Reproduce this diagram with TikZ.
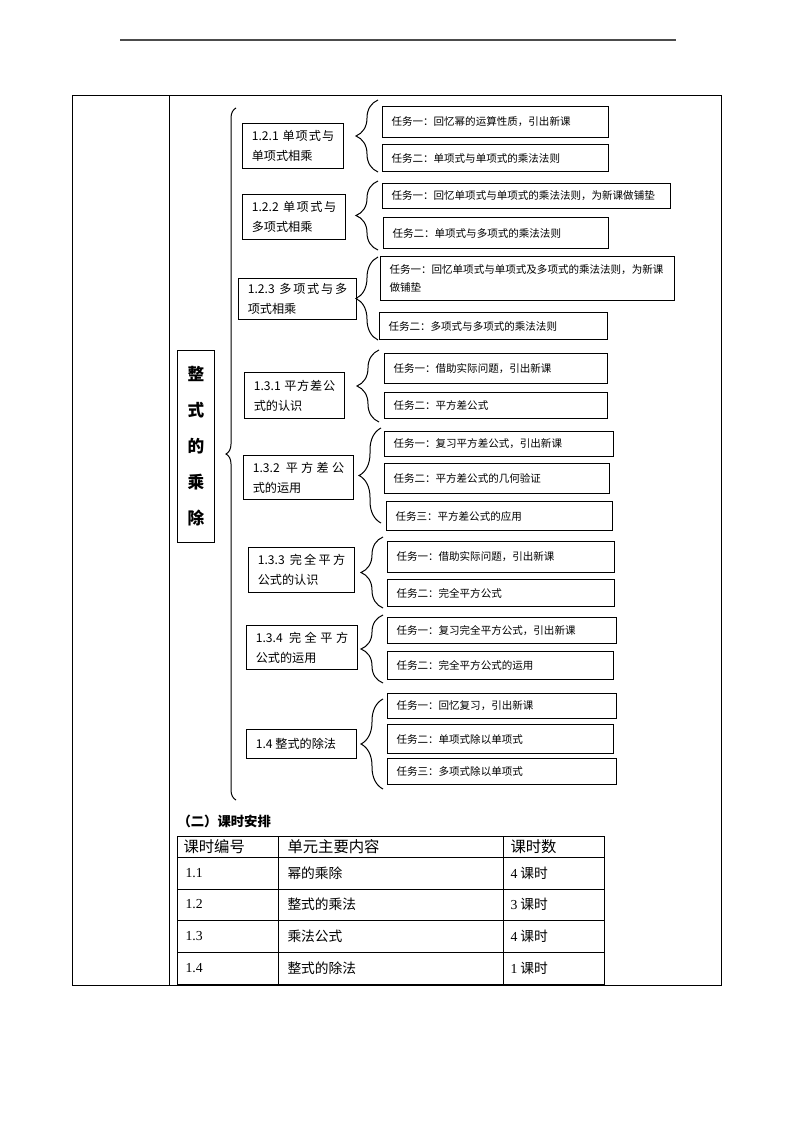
\documentclass[tikz,border=0pt]{standalone}
\usepackage{fontspec}
\setmainfont{Noto Sans CJK SC}
\newfontfamily\latin{Liberation Serif}
\usetikzlibrary{positioning, decorations.pathreplacing}
\XeTeXlinebreaklocale "zh"
\XeTeXlinebreakskip=0pt plus 1pt
\tikzstyle{topic} = [draw, line width=0.75pt, anchor=north west, inner xsep=7pt, inner ysep=0pt, align=justify, font=\fontsize{9.1pt}{15pt}\selectfont]
\tikzstyle{task} = [draw, line width=0.75pt, anchor=north west, inner xsep=6.75pt, inner ysep=0pt, align=left, font=\fontsize{7.9pt}{14pt}\selectfont]
\tikzstyle{curly} = [decorate, decoration={brace, amplitude=16.5pt}, line width=0.75pt]
\tikzstyle{bigcurly} = [decorate, decoration={brace, amplitude=7.5pt}, line width=0.75pt]
\tikzstyle{cell} = [anchor=west, inner sep=0pt, font=\fontsize{10.3pt}{12pt}\selectfont]
\tikzstyle{headcell} = [anchor=west, inner sep=0pt, font=\fontsize{11.5pt}{13pt}\selectfont]

\begin{document}
\begin{tikzpicture}[x=0.75pt, y=-0.75pt, line width=0.75pt]
            \useasboundingbox (0,0) rectangle (794,1123);
            % page rule and frame
            \draw[line width=1pt, black!70] (120,40) -- (676,40);
            \draw (72,96) rectangle (721,985);
            \draw (169,96) -- (169,985);

            \node (unit) [draw, anchor=north west, minimum width=27.75pt, minimum height=144pt, inner sep=0pt, align=center, font=\fontsize{12.5pt}{27pt}\selectfont\bfseries] at (177,350) {整\\式\\的\\乘\\除};

            % sections
            \node (m121) [topic, text width=61.75pt, minimum height=33.75pt] at (242,123) {1.2.1 单项式与\linebreak 单项式相乘};
            \node (m122) [topic, text width=63.25pt, minimum height=33.75pt] at (242,194) {1.2.2 单项式与\linebreak 多项式相乘};
            \node (m123) [topic, text width=74.5pt, minimum height=30.75pt] at (238,278) {1.2.3 多项式与多\linebreak 项式相乘};
            \node (m131) [topic, text width=61pt, minimum height=34.5pt] at (244,372) {1.3.1 平方差公\linebreak 式的认识};
            \node (m132) [topic, text width=68.5pt, minimum height=33pt] at (243,455) {1.3.2 平方差公\linebreak 式的运用};
            \node (m133) [topic, text width=65.5pt, minimum height=33.75pt] at (248,547) {1.3.3 完全平方\linebreak 公式的认识};
            \node (m134) [topic, text width=69.25pt, minimum height=33pt] at (246,625) {1.3.4 完全平方\linebreak 公式的运用};
            \node (m14) [topic, text width=68.5pt, minimum height=21.75pt] at (246,729) {1.4 整式的除法};

            % tasks
            \node (t121a) [task, text width=156pt, minimum height=23.25pt] at (382,106) {任务一：回忆幂的运算性质，引出新课};
            \node (t121b) [task, text width=156pt, minimum height=20.25pt] at (382,144) {任务二：单项式与单项式的乘法法则};
            \node (t122a) [task, text width=202.5pt, minimum height=18.75pt] at (382,183) {任务一：回忆单项式与单项式的乘法法则，为新课做铺垫};
            \node (t122b) [task, text width=155.25pt, minimum height=23.25pt] at (383,217) {任务二：单项式与多项式的乘法法则};
            \node (t123a) [task, text width=207pt, minimum height=33pt] at (380,256) {任务一：回忆单项式与单项式及多项式的乘法法则，为新课\\做铺垫};
            \node (t123b) [task, text width=157.5pt, minimum height=20.25pt] at (379,312) {任务二：多项式与多项式的乘法法则};
            \node (t131a) [task, text width=153.75pt, minimum height=22.5pt] at (384,353) {任务一：借助实际问题，引出新课};
            \node (t131b) [task, text width=153.75pt, minimum height=19.5pt] at (384,392) {任务二：平方差公式};
            \node (t132a) [task, text width=158.25pt, minimum height=18.75pt] at (384,431) {任务一：复习平方差公式，引出新课};
            \node (t132b) [task, text width=155.25pt, minimum height=22.5pt] at (384,463) {任务二：平方差公式的几何验证};
            \node (t132c) [task, text width=156pt, minimum height=21.75pt] at (386,501) {任务三：平方差公式的应用};
            \node (t133a) [task, text width=156.75pt, minimum height=23.25pt] at (387,541) {任务一：借助实际问题，引出新课};
            \node (t133b) [task, text width=156.75pt, minimum height=20.25pt] at (387,579) {任务二：完全平方公式};
            \node (t134a) [task, text width=158.25pt, minimum height=19.5pt] at (387,617) {任务一：复习完全平方公式，引出新课};
            \node (t134b) [task, text width=156pt, minimum height=21pt] at (387,651) {任务二：完全平方公式的运用};
            \node (t14a) [task, text width=158.25pt, minimum height=18.75pt] at (387,693) {任务一：回忆复习，引出新课};
            \node (t14b) [task, text width=156pt, minimum height=21.75pt] at (387,724) {任务二：单项式除以单项式};
            \node (t14c) [task, text width=158.25pt, minimum height=19.5pt] at (387,758) {任务三：多项式除以单项式};

            % brace ends
            \coordinate (bign) at (236,108);
            \coordinate (bigs) at (236,800);
            \coordinate (b121n) at (378,100);
            \coordinate (b121s) at (378,172);
            \coordinate (b122n) at (378,181);
            \coordinate (b122s) at (378,250);
            \coordinate (b123n) at (378,257);
            \coordinate (b123s) at (378,340);
            \coordinate (b131n) at (379,350);
            \coordinate (b131s) at (379,422);
            \coordinate (b132n) at (381,428);
            \coordinate (b132s) at (381,523);
            \coordinate (b133n) at (383,537);
            \coordinate (b133s) at (383,608);
            \coordinate (b134n) at (383,615);
            \coordinate (b134s) at (383,683);
            \coordinate (b14n) at (383,699);
            \coordinate (b14s) at (383,789);

            \draw[bigcurly] (bigs) -- (bign);
            \draw[curly] (b121s) -- (b121n);
            \draw[curly] (b122s) -- (b122n);
            \draw[curly] (b123s) -- (b123n);
            \draw[curly] (b131s) -- (b131n);
            \draw[curly] (b132s) -- (b132n);
            \draw[curly] (b133s) -- (b133n);
            \draw[curly] (b134s) -- (b134n);
            \draw[curly] (b14s) -- (b14n);

            % timetable
            \node (plan) [anchor=west, inner sep=0pt, font=\fontsize{10pt}{12pt}\selectfont\bfseries] at (177,821) {（二）课时安排};
            \draw (177,836) rectangle (604,984);
            \draw (177,857) -- (604,857);
            \draw (177,889) -- (604,889);
            \draw (177,920) -- (604,920);
            \draw (177,952) -- (604,952);
            \draw (278,836) -- (278,984);
            \draw (503,836) -- (503,984);

            \node (hno) [headcell] at (183,847) {课时编号};
            \node (hcontent) [headcell] at (287,847) {单元主要内容};
            \node (hhours) [headcell] at (510,847) {课时数};

            \node (no1) [cell] at (185,873) {\latin 1.1};
            \node (c1) [cell] at (287,873) {幂的乘除};
            \node (h1) [cell] at (510,873) {{\latin 4} 课时};
            \node (no2) [cell] at (185,904.5) {\latin 1.2};
            \node (c2) [cell] at (287,904.5) {整式的乘法};
            \node (h2) [cell] at (510,904.5) {{\latin 3} 课时};
            \node (no3) [cell] at (185,936) {\latin 1.3};
            \node (c3) [cell] at (287,936) {乘法公式};
            \node (h3) [cell] at (510,936) {{\latin 4} 课时};
            \node (no4) [cell] at (185,968) {\latin 1.4};
            \node (c4) [cell] at (287,968) {整式的除法};
            \node (h4) [cell] at (510,968) {{\latin 1} 课时};
        \end{tikzpicture}
\end{document}
